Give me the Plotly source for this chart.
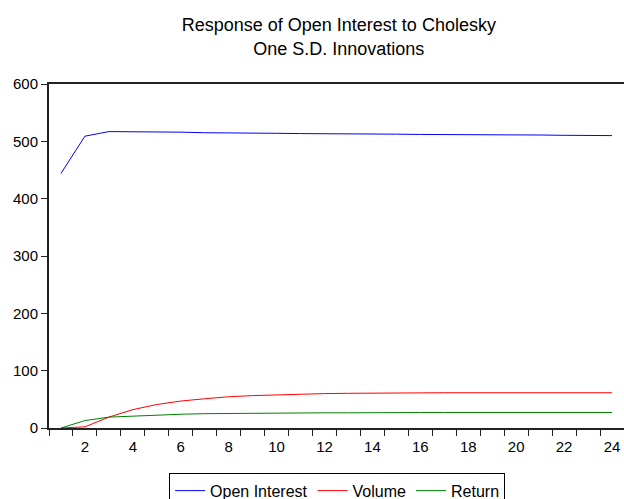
import plotly.graph_objects as go

periods = list(range(1, 25))
open_interest = [444, 509, 517, 517, 516.5, 516, 515, 515, 514.5, 514, 513.5, 513.5,
                 513, 513, 512.5, 512, 512, 511.5, 511.5, 511, 511, 510.5, 510.5, 510]
volume = [0, 2, 19, 32, 41, 47, 51, 54.5, 56.5, 58, 59.5, 60, 60.5, 61, 61, 61.5,
          61.5, 61.5, 61.5, 62, 62, 61.5, 61.5, 61.5]
ret = [0, 13, 19, 21, 23, 24, 25, 25.5, 26, 26, 26.5, 26.5, 26.5, 27, 27, 27,
       27, 27, 27, 27, 27, 27, 27, 27]
x_tick_labels = [2, 4, 6, 8, 10, 12, 14, 16, 18, 20, 22, 24]
y_tick_labels = [0, 100, 200, 300, 400, 500, 600]

font = "Liberation Sans, Arial, sans-serif"

fig = go.Figure()
fig.add_trace(go.Scatter(x=periods, y=open_interest, mode="lines", name="Open Interest",
                         line=dict(color="#0000FF", width=1)))
fig.add_trace(go.Scatter(x=periods, y=volume, mode="lines", name="Volume",
                         line=dict(color="#FF0000", width=1)))
fig.add_trace(go.Scatter(x=periods, y=ret, mode="lines", name="Return",
                         line=dict(color="#008000", width=1)))

fig.update_layout(
    width=624, height=499,
    paper_bgcolor="white", plot_bgcolor="white",
    margin=dict(l=49, r=0, t=84, b=71, autoexpand=False),
    font=dict(family=font, size=14, color="black"),
    title=dict(text="Response of Open Interest to Cholesky<br>One S.D. Innovations",
               x=0.543, xanchor="center", xref="container",
               y=0.937, yanchor="middle", yref="container",
               font=dict(family=font, size=18, color="black")),
    showlegend=True,
    legend=dict(orientation="h", x=0.501, xanchor="center", y=-0.13, yanchor="top",
                bordercolor="black", borderwidth=1, font=dict(size=16),
                itemwidth=30, tracegroupgap=0),
)
fig.update_xaxes(
    range=[0.5, 24.5], tickvals=x_tick_labels, ticktext=[str(v) for v in x_tick_labels],
    ticks="outside", ticklen=4, tickcolor="rgba(0,0,0,0)",
    showgrid=False, zeroline=False, automargin=False,
    showline=True, linecolor="#222", linewidth=2, mirror=True,
    minor=dict(tick0=0.5, dtick=1, ticks="outside", ticklen=6, tickcolor="#222", showgrid=False),
    tickfont=dict(size=15),
)
fig.update_yaxes(
    range=[0, 600], tickvals=y_tick_labels, ticks="outside", ticklen=6, tickcolor="#222",
    showgrid=False, zeroline=False, showline=True, linecolor="#222", linewidth=2,
    automargin=False, tickfont=dict(size=15),
)

# remove the default page margin so the figure fills the window exactly
fig.write_html("out.html", config={"displayModeBar": False},
               post_script="document.body.style.margin='0';")
